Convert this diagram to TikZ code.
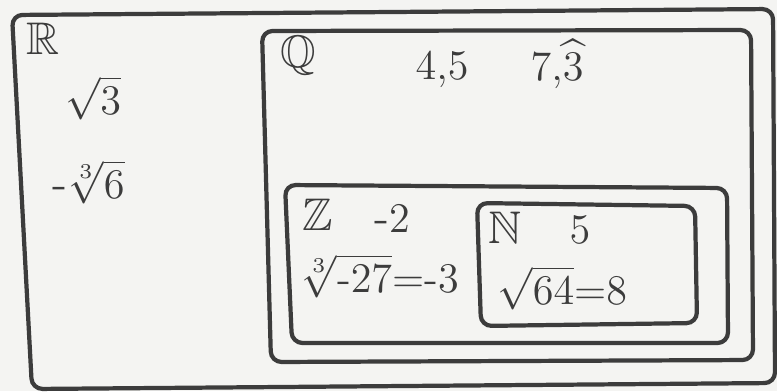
\documentclass[tikz,border=0pt]{standalone}
\usepackage{amssymb}
\usepackage{amsmath}
\usepackage{xcolor}
\definecolor{lapiz}{HTML}{3C3C3C}
\definecolor{papel}{HTML}{F4F4F2}
\newcommand{\menos}{\text{-}}
\tikzset{
  conjunto/.style={draw=lapiz,line width=1.2pt,rounded corners=3pt},
  elemento/.style={text=lapiz,font=\fontsize{13}{15}\selectfont,inner sep=0pt}
}

\begin{document}
\begin{tikzpicture}[x=0.01cm,y=-0.01cm]
    \fill[papel] (0,0) rectangle (777,391);
    \useasboundingbox (0,0) rectangle (777,391);

    \begin{scope}
      \draw[conjunto] (12,15) -- (773,9) -- (775,383) -- (32,389) -- cycle;
      \node[elemento] (R) at (43,39) {$\mathbb{R}$};
      \node[elemento] (raiz3) at (93,98) {$\sqrt{3}$};
      \node[elemento,anchor=west] (raizcub6) at (52,182) {$\menos\sqrt[3]{6}$};
    \end{scope}

    \begin{scope}
      \draw[conjunto] (262,31) -- (751,30) -- (753,360) -- (271,362) -- cycle;
      \node[elemento] (Q) at (298,56) {$\mathbb{Q}$};
      \node[elemento] (cuatro) at (442,70) {$4{,}5$};
      \node[elemento,anchor=base] (siete) at (557,80) {$7{,}\widehat{3}$};
    \end{scope}

    \begin{scope}
      \draw[conjunto] (285,185) -- (727,188) -- (728,343) -- (292,343) -- cycle;
      \node[elemento] (Z) at (318,215) {$\mathbb{Z}$};
      \node[elemento] (menos2) at (392,219) {$\menos2$};
      \node[elemento,anchor=west,font=\fontsize{12}{14}\selectfont] (raizcub27) at (300,276)
        {$\sqrt[3]{\menos27}{=}{\menos}3$};
    \end{scope}

    \begin{scope}
      \draw[conjunto] (477,203) -- (695,206) -- (697,323) -- (481,326) -- cycle;
      \node[elemento] (N) at (505,228) {$\mathbb{N}$};
      \node[elemento] (cinco) at (580,230) {$5$};
      \node[elemento,anchor=west,font=\fontsize{12}{14}\selectfont] (raiz64) at (497,288)
        {$\sqrt{64}{=}8$};
    \end{scope}
  \end{tikzpicture}
\end{document}
